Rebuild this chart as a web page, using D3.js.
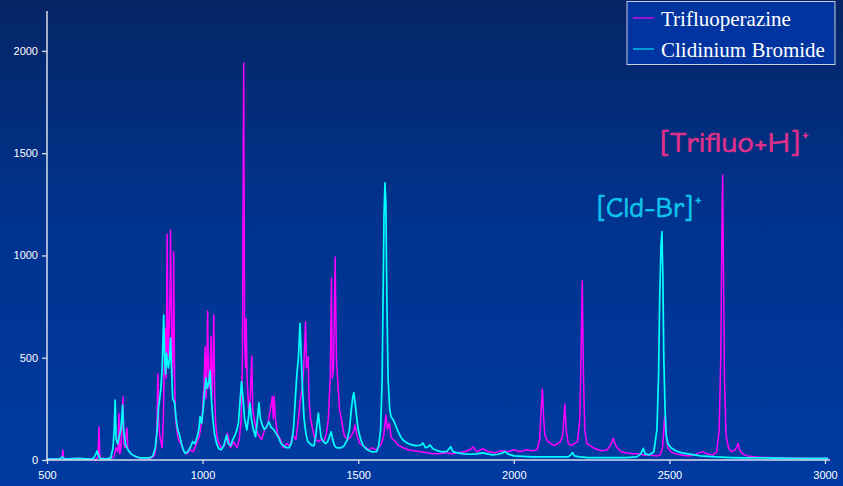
<!DOCTYPE html>
<html>
<head>
<meta charset="utf-8">
<script src="https://cdn.jsdelivr.net/npm/d3@7/dist/d3.min.js"></script>
<style>
html,body{margin:0;padding:0;background:#00339a;}
svg{display:block;}
</style>
</head>
<body>
<svg id="chart" width="843" height="486"></svg>
<script>
// ---- data (m/z, intensity) ----
const seriesNames = ["Trifluoperazine", "Clidinium Bromide"];
const xTicks = [500, 1000, 1500, 2000, 2500, 3000];
const yTicks = [0, 500, 1000, 1500, 2000];
const annotations = ["[Trifluo+H]", "[Cld-Br]"];

const trifluoperazine = [
[500,5],[540,5],[548,10],[551,49],[554,5],[600,8],[640,4],[660,5],[664,20],[667,161],[670,10],[700,5],
[715,15],[722,60],[728,40],[731,229],[734,30],[738,60],[741,180],[744,308],[747,80],[751,60],[754,120],
[757,156],[760,50],[770,30],[785,15],[800,8],[830,5],[845,20],[850,60],[853,150],[856,420],[859,200],
[862,120],[866,90],[870,60],[874,200],[877,500],[880,640],[883,400],[886,1105],[889,500],[892,600],
[895,800],[897,1124],[900,650],[903,400],[905,600],[907,1018],[910,400],[913,200],[917,150],[922,100],
[930,80],[940,40],[950,30],[960,50],[970,40],[980,80],[990,120],[998,200],[1004,350],[1008,553],
[1011,300],[1014,500],[1016,728],[1019,400],[1022,350],[1025,500],[1027,605],[1030,300],[1033,450],
[1036,709],[1039,300],[1042,180],[1046,120],[1050,90],[1060,60],[1070,70],[1080,130],[1090,60],
[1100,90],[1110,60],[1118,100],[1124,200],[1128,500],[1132,1939],[1135,600],[1138,450],[1140,690],
[1143,400],[1148,250],[1153,300],[1158,508],[1161,250],[1166,200],[1172,150],[1180,120],[1190,100],
[1200,150],[1210,180],[1218,250],[1224,310],[1227,200],[1230,310],[1234,200],[1240,130],[1250,100],
[1260,60],[1270,80],[1280,70],[1290,120],[1300,100],[1308,200],[1314,300],[1320,350],[1325,450],
[1331,676],[1334,450],[1339,505],[1342,300],[1347,200],[1355,140],[1362,100],[1372,90],[1380,100],
[1390,90],[1398,130],[1404,200],[1410,400],[1414,888],[1417,400],[1421,450],[1426,992],[1430,500],
[1434,391],[1440,250],[1448,180],[1455,120],[1465,100],[1475,110],[1485,140],[1490,171],[1496,120],
[1505,80],[1515,70],[1525,60],[1535,50],[1545,60],[1555,50],[1565,60],[1575,80],[1582,120],[1589,220],
[1594,150],[1600,180],[1606,110],[1612,100],[1620,90],[1630,70],[1645,60],[1660,50],[1680,45],
[1700,40],[1720,35],[1740,30],[1760,30],[1780,35],[1800,30],[1820,35],[1840,40],[1860,50],[1869,65],
[1880,40],[1900,55],[1920,40],[1940,35],[1960,45],[1980,40],[2000,50],[2020,40],[2040,50],[2060,45],
[2075,50],[2083,100],[2088,250],[2092,346],[2096,200],[2100,120],[2110,90],[2120,80],[2130,70],
[2140,80],[2150,90],[2157,120],[2161,200],[2164,274],[2168,150],[2175,80],[2185,70],[2195,80],
[2205,90],[2212,200],[2216,500],[2220,875],[2224,400],[2228,150],[2235,80],[2245,70],[2255,60],
[2270,50],[2285,45],[2300,50],[2310,70],[2316,90],[2320,106],[2325,80],[2332,60],[2345,40],[2360,35],
[2380,30],[2400,30],[2420,25],[2440,25],[2460,20],[2470,25],[2478,60],[2482,150],[2485,212],[2489,120],
[2495,60],[2505,40],[2520,30],[2540,25],[2560,20],[2580,25],[2595,35],[2607,41],[2620,30],[2640,25],
[2652,40],[2660,150],[2665,500],[2668,1000],[2671,1393],[2674,900],[2677,400],[2682,120],[2690,60],
[2700,40],[2712,50],[2718,70],[2721,81],[2725,50],[2735,30],[2750,20],[2780,15],[2820,12],[2860,10],
[2900,10],[2950,8],[3010,8]
];

const clidiniumBromide = [
[500,5],[540,5],[550,15],[555,5],[600,8],[640,5],[650,10],[656,25],[661,44],[665,25],[670,8],[690,5],
[705,10],[712,60],[716,150],[719,293],[722,100],[727,80],[733,120],[737,150],[740,200],[743,269],
[746,150],[752,80],[760,50],[770,30],[780,20],[800,10],[830,10],[840,20],[848,60],[854,150],[858,250],
[862,300],[866,350],[870,450],[873,600],[875,708],[878,500],[881,420],[884,522],[887,480],[890,450],
[894,500],[897,596],[900,450],[904,300],[910,280],[915,200],[920,150],[926,120],[932,80],[938,50],
[944,33],[952,40],[960,60],[968,90],[975,80],[982,110],[988,150],[992,212],[997,180],[1002,250],
[1006,330],[1011,400],[1015,350],[1020,380],[1024,436],[1028,300],[1033,200],[1038,130],[1045,80],
[1052,55],[1060,50],[1068,70],[1077,121],[1083,80],[1090,70],[1097,100],[1104,120],[1110,146],
[1115,180],[1120,280],[1125,383],[1130,300],[1135,200],[1142,147],[1147,200],[1152,278],[1157,200],
[1163,150],[1170,114],[1175,180],[1181,280],[1186,200],[1192,170],[1198,150],[1205,160],[1213,187],
[1220,160],[1228,150],[1236,130],[1245,107],[1252,80],[1260,70],[1270,60],[1278,60],[1285,80],
[1292,150],[1298,300],[1303,420],[1308,500],[1313,668],[1317,500],[1321,350],[1326,200],[1332,130],
[1338,90],[1345,80],[1352,70],[1358,70],[1364,120],[1368,180],[1372,229],[1376,170],[1381,110],
[1388,90],[1395,80],[1402,90],[1409,120],[1413,138],[1418,100],[1424,70],[1430,60],[1438,59],
[1446,60],[1455,70],[1465,100],[1472,150],[1478,250],[1483,310],[1486,329],[1490,280],[1495,212],
[1500,150],[1508,100],[1516,70],[1525,55],[1535,45],[1545,40],[1559,41],[1566,70],[1572,150],
[1577,400],[1580,800],[1583,1200],[1586,1355],[1589,1250],[1592,800],[1596,400],[1601,250],[1606,210],
[1613,195],[1620,170],[1628,140],[1636,115],[1644,98],[1655,85],[1670,75],[1685,70],[1700,72],
[1708,83],[1716,60],[1725,65],[1731,73],[1740,55],[1755,45],[1770,40],[1785,42],[1797,65],[1805,40],
[1820,35],[1840,30],[1860,28],[1880,30],[1900,35],[1915,30],[1930,25],[1950,28],[1965,35],[1972,41],
[1980,30],[2000,20],[2030,18],[2060,15],[2090,15],[2120,15],[2150,15],[2175,15],[2183,25],[2189,36],
[2195,20],[2210,15],[2240,12],[2280,12],[2320,12],[2360,12],[2395,15],[2408,30],[2416,57],[2422,30],
[2435,25],[2450,40],[2460,150],[2465,400],[2469,800],[2473,1050],[2476,1116],[2479,900],[2482,500],
[2486,250],[2490,120],[2495,80],[2505,60],[2520,45],[2540,35],[2560,30],[2580,25],[2600,20],[2650,15],
[2700,12],[2750,10],[2800,10],[2900,8],[3010,8]
];

// ---- drawing ----
const W = 843, H = 486;
const svg = d3.select("#chart");
const defs = svg.append("defs");
const grad = defs.append("linearGradient").attr("id","bg").attr("x1",0).attr("y1",0).attr("x2",0).attr("y2",1);
grad.append("stop").attr("offset","0%").attr("stop-color","#062566");
grad.append("stop").attr("offset","45%").attr("stop-color","#00338e");
grad.append("stop").attr("offset","100%").attr("stop-color","#003aa2");
svg.append("rect").attr("width",W).attr("height",H).attr("fill","url(#bg)");

const x = d3.scaleLinear().domain([500,3000]).range([47,825]);
const y = d3.scaleLinear().domain([0,2195]).range([460,11]);

const line = d3.line().x(d=>x(d[0])).y(d=>y(d[1]));

svg.append("path").datum(trifluoperazine).attr("d",line)
  .attr("fill","none").attr("stroke","#ff00ff").attr("stroke-width",1.5).attr("stroke-linejoin","round");
svg.append("path").datum(clidiniumBromide).attr("d",line)
  .attr("fill","none").attr("stroke","#00ffff").attr("stroke-width",1.7).attr("stroke-linejoin","round");

// axes
const axisColor = "#d8deea";
const yAxis = svg.append("g").attr("transform","translate(47,0)")
  .call(d3.axisLeft(y).tickValues(yTicks).tickSize(5).tickPadding(4).tickFormat(d3.format("d")));
const xAxis = svg.append("g").attr("transform","translate(0,460)")
  .call(d3.axisBottom(x).tickValues(xTicks).tickSize(4).tickPadding(7).tickFormat(d3.format("d")));
[yAxis,xAxis].forEach(g=>{
  g.select(".domain").remove();
  g.selectAll("line").attr("stroke",axisColor).attr("stroke-width",1.3);
  g.selectAll("text").attr("fill","#ffffff").style("font-family","'Liberation Sans', Arial, sans-serif").style("font-size","11px");
});
svg.append("line").attr("x1",47).attr("x2",47).attr("y1",11).attr("y2",460.5).attr("stroke",axisColor).attr("stroke-width",1.5);
svg.append("line").attr("x1",46.5).attr("x2",830).attr("y1",460).attr("y2",460).attr("stroke",axisColor).attr("stroke-width",1.5);

// legend
const lg = svg.append("g");
lg.append("rect").attr("x",627).attr("y",1.5).attr("width",208).attr("height",63)
  .attr("fill","#0034a0").attr("stroke","#c8cede").attr("stroke-width",1);
const legendColors = ["#ff00ff","#00e0ff"];
seriesNames.forEach((name,i)=>{
  const yy = 18 + i*31;
  lg.append("line").attr("x1",633).attr("x2",654).attr("y1",yy).attr("y2",yy)
    .attr("stroke",legendColors[i]).attr("stroke-width",1.2);
  lg.append("text").attr("x",661).attr("y",yy+8).text(name)
    .attr("fill","#ffffff").style("font-family","'Liberation Serif','Times New Roman',serif").style("font-size","21px");
});

// annotations
const annFont = "'Comic Sans MS','Comic Neue','Open Sans',sans-serif";
function annotate(label, ax, ay, width, color){
  const t = svg.append("text").attr("x",ax).attr("y",ay)
    .attr("fill",color).attr("stroke",color).attr("stroke-width",0.7)
    .style("font-family",annFont).style("font-size","28px").style("font-weight","400");
  t.append("tspan").text(label).attr("textLength",width).attr("lengthAdjust","spacingAndGlyphs");
  t.append("tspan").text("+").attr("dx",2).attr("dy",-13).style("font-size","15px");
}
annotate(annotations[0], 660, 152, 140, "#e0308c");
annotate(annotations[1], 597, 217, 96, "#10c4ee");
</script>
</body>
</html>
